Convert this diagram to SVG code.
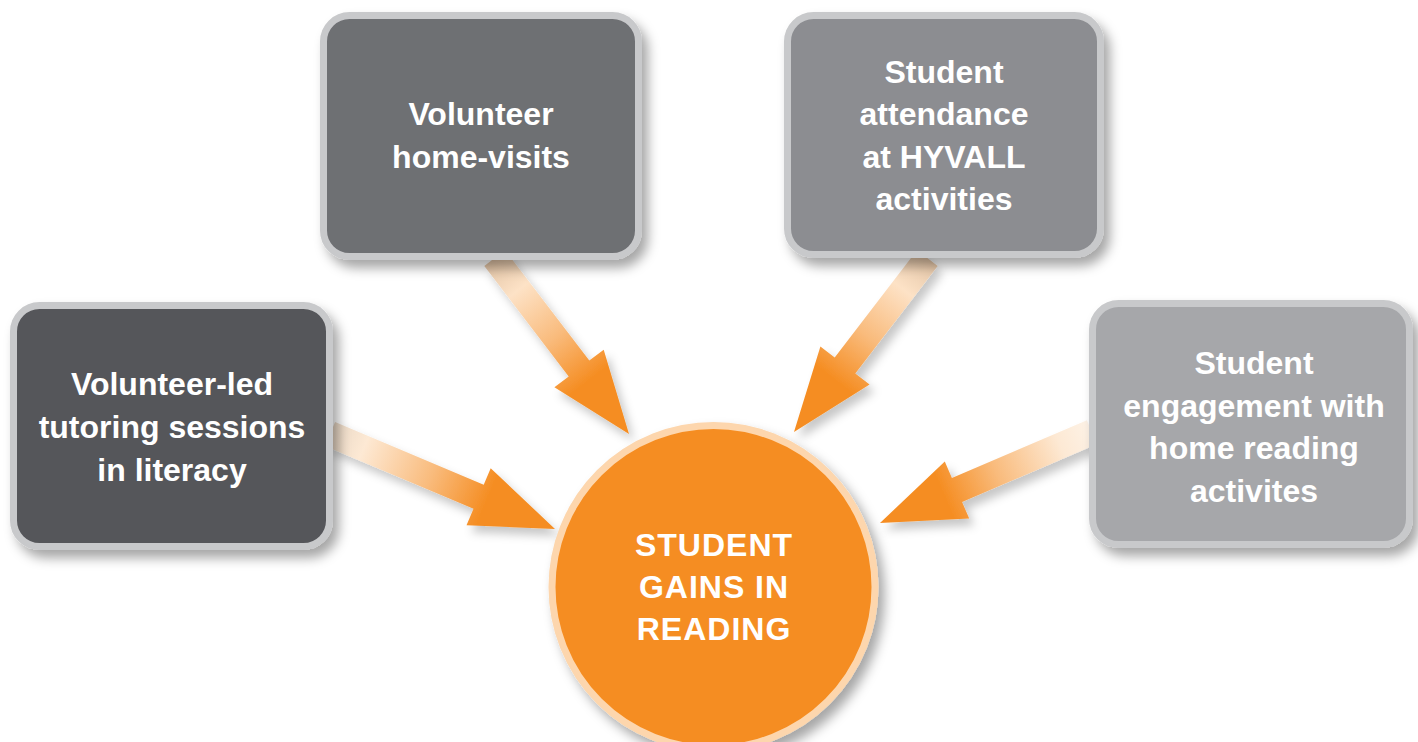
<svg xmlns="http://www.w3.org/2000/svg" width="1418" height="742" viewBox="0 0 1418 742">
  <style>
    .box { stroke: #c8c9cb; stroke-width: 7; filter: url(#shadow); }
    .label { font-family: "Liberation Sans", Arial, sans-serif; font-weight: bold; font-size: 32px; fill: #ffffff; text-anchor: middle; }
    .hub { letter-spacing: 1px; }
    .arrow { filter: url(#arrowShadow); }
  </style>
  <defs>
    <filter id="shadow" x="-20%" y="-20%" width="140%" height="140%">
      <feDropShadow dx="6" dy="8" stdDeviation="6" flood-color="#000" flood-opacity="0.35"/>
    </filter>
    <filter id="arrowShadow" x="-20%" y="-20%" width="140%" height="140%">
      <feDropShadow dx="5" dy="7" stdDeviation="5" flood-color="#000" flood-opacity="0.22"/>
    </filter>
    <linearGradient id="g1" gradientUnits="userSpaceOnUse" x1="330" y1="434" x2="555" y2="529">
      <stop offset="0" stop-color="#e9d8c6"/>
      <stop offset="0.15" stop-color="#fde9d4"/>
      <stop offset="0.45" stop-color="#f9bb7c"/>
      <stop offset="0.7" stop-color="#f58d22"/>
      <stop offset="1" stop-color="#f58d22"/>
    </linearGradient>
    <linearGradient id="g2" gradientUnits="userSpaceOnUse" x1="494.6" y1="258" x2="629" y2="434">
      <stop offset="0" stop-color="#e2c4a6"/>
      <stop offset="0.18" stop-color="#fde2c6"/>
      <stop offset="0.45" stop-color="#f9bb7c"/>
      <stop offset="0.7" stop-color="#f58d22"/>
      <stop offset="1" stop-color="#f58d22"/>
    </linearGradient>
    <linearGradient id="g3" gradientUnits="userSpaceOnUse" x1="927.4" y1="258" x2="794" y2="432">
      <stop offset="0" stop-color="#e2c4a6"/>
      <stop offset="0.18" stop-color="#fde2c6"/>
      <stop offset="0.45" stop-color="#f9bb7c"/>
      <stop offset="0.7" stop-color="#f58d22"/>
      <stop offset="1" stop-color="#f58d22"/>
    </linearGradient>
    <linearGradient id="g4" gradientUnits="userSpaceOnUse" x1="1092" y1="432" x2="880" y2="523">
      <stop offset="0" stop-color="#fdf2e6"/>
      <stop offset="0.15" stop-color="#fde9d4"/>
      <stop offset="0.45" stop-color="#f9bb7c"/>
      <stop offset="0.7" stop-color="#f58d22"/>
      <stop offset="1" stop-color="#f58d22"/>
    </linearGradient>
  </defs>

  <rect width="1418" height="742" fill="#ffffff"/>

  <!-- connectors: gradient block arrows into the central circle -->
  <g id="connectors">
    <polygon class="arrow" fill="url(#g1)" points="324.9,446.0 473.5,508.7 466.5,525.3 555,529 490.7,468.2 483.7,484.7 335.1,422.0"/>
    <polygon class="arrow" fill="url(#g2)" points="484.3,265.9 568.7,376.4 554.4,387.3 629,434 603.7,349.7 589.3,360.6 504.9,250.1"/>
    <polygon class="arrow" fill="url(#g3)" points="917.1,250.1 834.7,357.6 820.4,346.6 794,432 869.6,384.4 855.3,373.4 937.7,265.9"/>
    <polygon class="arrow" fill="url(#g4)" points="1086.9,420.2 951.9,478.1 944.8,461.5 880,523 969.2,518.5 962.1,502.0 1097.1,444.1"/>
  </g>

  <g id="node-tutoring">
    <rect class="box" x="13.5" y="305.5" width="316" height="241" rx="26" fill="#55565a"/>
    <text class="label" x="172" y="394.5">Volunteer-led</text>
    <text class="label" x="172" y="437.5">tutoring sessions</text>
    <text class="label" x="172" y="480.5">in literacy</text>
  </g>

  <g id="node-home-visits">
    <rect class="box" x="323.5" y="15.5" width="315" height="241" rx="26" fill="#6e6f73"/>
    <text class="label" x="481" y="124.5">Volunteer</text>
    <text class="label" x="481" y="167.5">home-visits</text>
  </g>

  <g id="node-attendance">
    <rect class="box" x="787.5" y="15.5" width="313" height="239" rx="26" fill="#8c8d91"/>
    <text class="label" x="944" y="82.5">Student</text>
    <text class="label" x="944" y="124.5">attendance</text>
    <text class="label" x="944" y="167.5">at HYVALL</text>
    <text class="label" x="944" y="209.5">activities</text>
  </g>

  <g id="node-home-reading">
    <rect class="box" x="1092.5" y="303.5" width="317" height="241" rx="26" fill="#a6a7aa"/>
    <text class="label" x="1254" y="373.5">Student</text>
    <text class="label" x="1254" y="416.5">engagement with</text>
    <text class="label" x="1254" y="458.5">home reading</text>
    <text class="label" x="1254" y="501.5">activites</text>
  </g>

  <g id="node-gains">
    <circle cx="713.5" cy="587" r="161.5" fill="#f58d22" stroke="#fdd6ad" stroke-width="7" filter="url(#shadow)"/>
    <text class="label hub" x="714" y="555.5">STUDENT</text>
    <text class="label hub" x="714" y="597.5">GAINS IN</text>
    <text class="label hub" x="714" y="639.5">READING</text>
  </g>
</svg>
